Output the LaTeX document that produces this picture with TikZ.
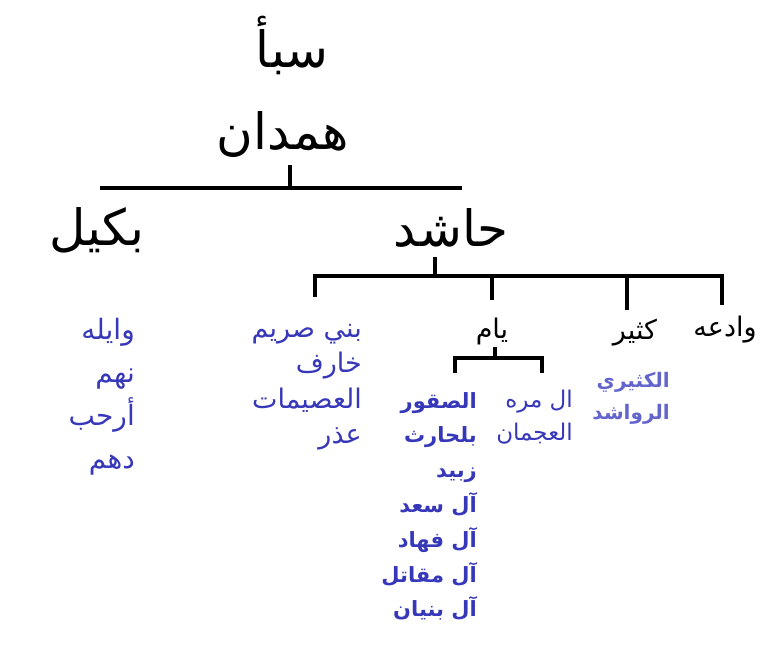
\documentclass[tikz,border=0pt]{standalone}
\usepackage{fontspec}
\newfontfamily\arabicfont[Script=Arabic]{DejaVu Sans}
\TeXXeTstate=1
\usetikzlibrary{positioning}
\definecolor{tribe}{RGB}{55,55,185}
\definecolor{tribelight}{RGB}{100,100,205}
\newcommand{\artext}[1]{\beginR #1\endR}
\tikzset{x=1pt, y=-1pt}
\tikzset{big/.style={inner sep=0pt, font=\arabicfont\fontsize{50}{60}\selectfont}}
\tikzset{sub/.style={inner sep=0pt, font=\arabicfont\fontsize{27}{32}\selectfont}}
\tikzset{clan/.style={inner sep=0pt, anchor=north east, align=right, text=tribe, font=\arabicfont\fontsize{27}{35.5}\selectfont}}
\tikzset{bar/.style={line width=4pt, miter limit=4}}

\begin{document}
\begin{tikzpicture}
        \useasboundingbox (0,0) rectangle (770,658);
        % top of the tree
        \node[big] (saba) at (292,45) {\artext{سبأ}};
        \node[big] (hamdan) at (283,135) {\artext{همدان}};
        \node[big] (bakil) at (97,230) {\artext{بكيل}};
        \node[big] (hashid) at (451,228) {\artext{حاشد}};
        \coordinate (t0) at (290,165);
        \coordinate (tl) at (100,188);
        \coordinate (tr) at (462,188);
        \draw[bar] (t0) -- (t0 |- tl);
        \draw[bar] (tl) -- (tr);
        % hashid branches
        \node[sub] (wadiah) at (725,330) {\artext{وادعه}};
        \node[sub] (kathir) at (635,333) {\artext{كثير}};
        \node[sub] (yam) at (492,331) {\artext{يام}};
        \coordinate (h0) at (435,257);
        \coordinate (d1) at (315,297);
        \coordinate (d2) at (492,300);
        \coordinate (d3) at (627,310);
        \coordinate (d4) at (722,305);
        \draw[bar] (h0) -- (h0 |- d1 |- 0,276);
        \draw[bar] (d1) -- (d1 |- 0,276) -- (d4 |- 0,276) -- (d4);
        \draw[bar] (d2 |- 0,276) -- (d2);
        \draw[bar] (d3 |- 0,276) -- (d3);
        % yam branches
        \coordinate (y0) at (495,347);
        \coordinate (yl) at (455,373);
        \coordinate (yr) at (542,373);
        \draw[bar] (y0) -- (y0 |- 0,358);
        \draw[bar] (yl) -- (yl |- 0,358) -- (yr |- 0,358) -- (yr);
        % clans
        \node[clan, font=\arabicfont\fontsize{28}{43}\selectfont] (bakillist) at (135,318)
            {\artext{وايله}\\\artext{نهم}\\\artext{أرحب}\\\artext{دهم}};
        \node[clan] (sarimlist) at (362,324)
            {\artext{بني صريم}\\\artext{خارف}\\\artext{العصيمات}\\\artext{عذر}};
        \node[clan, font=\arabicfont\bfseries\fontsize{21}{34.8}\selectfont] (saqurlist) at (477,392)
            {\artext{الصقور}\\\artext{بلحارث}\\\artext{زبيد}\\\artext{آل سعد}\\\artext{آل فهاد}\\\artext{آل مقاتل}\\\artext{آل بنيان}};
        \node[clan, font=\arabicfont\fontsize{23}{33}\selectfont] (murrahlist) at (573,390)
            {\artext{ال مره}\\\artext{العجمان}};
        \node[clan, text=tribelight, font=\arabicfont\bfseries\fontsize{20}{32}\selectfont] (kathirilist) at (670,372)
            {\artext{الكثيري}\\\artext{الرواشد}};
\end{tikzpicture}
\end{document}
